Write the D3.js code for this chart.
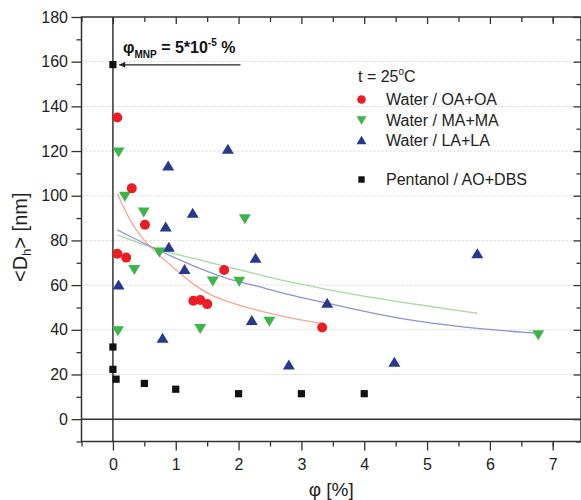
<!DOCTYPE html>
<html><head><meta charset="utf-8">
<script src="https://cdn.jsdelivr.net/npm/d3@7"></script>
<style>
html,body{margin:0;padding:0;background:#fff;}
svg{display:block;font-family:"Liberation Sans",Arial,Helvetica,sans-serif;}
</style></head>
<body>
<svg id="chart" width="581" height="500"></svg>
<script>
// ---- data ----
const oaX = [0.07, 0.3, 0.07, 0.21, 0.51, 1.77, 1.28, 1.39, 1.5, 3.33];
const oaY = [135, 103.3, 74, 72.3, 87, 66.8, 53, 53.3, 51.5, 41];

const maX = [0.09, 0.19, 0.49, 0.34, 0.74, 0.08, 1.39, 1.59, 2.01, 2.1, 2.49, 6.77];
const maY = [119.4, 99.6, 92.5, 66.8, 74.6, 39.4, 40.3, 61.6, 61.5, 89.5, 43.6, 37.6];

const laX = [0.88, 1.83, 0.09, 0.84, 0.89, 1.27, 1.14, 0.79, 2.27, 2.21, 2.8, 3.41, 4.48, 5.8];
const laY = [113.5, 121, 60.3, 86.2, 77.2, 92.4, 67.2, 36.4, 72.2, 44.4, 24.5, 52.1, 25.7, 74.3];

const aoX = [0, 0, 0, 0.05, 0.5, 1.0, 2.0, 3.0, 4.0];
const aoY = [158.7, 32.3, 22.3, 17.9, 16, 13.4, 11.4, 11.4, 11.4];

// fitted trend curves
const oaFitX = [0.07, 0.28, 0.49, 0.7, 1.02, 1.29, 1.55, 1.84, 2.24, 2.77, 3.3];
const oaFitY = [101, 88, 80, 74, 66.5, 60, 55.5, 52.5, 49, 45.5, 42.9];
const maFitX = [0.07, 0.7, 1.29, 1.76, 2.24, 2.77, 3.46, 3.78, 4.52, 5.8];
const maFitY = [82.5, 75.7, 72, 68.5, 65.3, 61.5, 57.8, 56, 52.6, 47.4];
const laFitX = [0.07, 0.65, 1.29, 1.84, 2.24, 2.77, 3.3, 3.78, 4.52, 5.59, 6.75];
const laFitY = [84.7, 76.5, 68.3, 62.5, 60, 55.8, 52.6, 49.6, 45, 41, 38.4];

const xTicks = [0, 1, 2, 3, 4, 5, 6, 7];
const xMinor = [-0.5, 0.5, 1.5, 2.5, 3.5, 4.5, 5.5, 6.5, 7];
const yTicks = [0, 20, 40, 60, 80, 100, 120, 140, 160, 180];
const yMinor = [-10, 10, 30, 50, 70, 90, 110, 130, 150, 170];
const gridY = [20, 40, 60, 80, 100, 120, 140, 160];

const legendNames = ["Water / OA+OA", "Water / MA+MA", "Water / LA+LA", "Pentanol / AO+DBS"];

// ---- drawing ----
const svg = d3.select("#chart");
const x = d3.scaleLinear().domain([-0.5, 7.45]).range([81.5, 581]);
const y = d3.scaleLinear().domain([-10, 180]).range([441.5, 17]);
const X0 = x.range()[0], X1 = x.range()[1], Y0 = y.range()[0], Y1 = y.range()[1];

const C = {oa: "#ec1c24", ma: "#3db54a", la: "#27398f", ao: "#111111",
           oaFit: "#f5a592", maFit: "#a9d8a3", laFit: "#8f92d8"};

// grid
svg.append("g").selectAll("line").data(gridY).join("line")
  .attr("x1", X0).attr("x2", X1).attr("y1", d => y(d)).attr("y2", d => y(d))
  .attr("stroke", "#d6d6d6").attr("stroke-width", 1).attr("stroke-dasharray", "2,2");

// zero lines
svg.append("line").attr("x1", X0).attr("x2", X1).attr("y1", y(0)).attr("y2", y(0))
  .attr("stroke", "#333").attr("stroke-width", 1.5);
svg.append("line").attr("x1", x(0)).attr("x2", x(0)).attr("y1", Y1).attr("y2", Y0)
  .attr("stroke", "#333").attr("stroke-width", 1.5);

// fit curves
const line = d3.line().x(d => x(d[0])).y(d => y(d[1])).curve(d3.curveBasis);
[[oaFitX, oaFitY, C.oaFit], [maFitX, maFitY, C.maFit], [laFitX, laFitY, C.laFit]].forEach(([xs, ys, c]) => {
  svg.append("path").attr("d", line(xs.map((v, i) => [v, ys[i]])))
    .attr("fill", "none").attr("stroke", c).attr("stroke-width", 1.3);
});

// marker shapes
function triUp(w, h) { return `M${-w},${h}L${w},${h}L0,${-h}Z`; }
function triDown(w, h) { return `M${-w},${-h}L${w},${-h}L0,${h}Z`; }

const gM = svg.append("g");
gM.selectAll(".ao").data(aoX.map((v, i) => [v, aoY[i]])).join("rect")
  .attr("x", d => x(d[0]) - 3.6).attr("y", d => y(d[1]) - 3.6)
  .attr("width", 7.2).attr("height", 7.2).attr("fill", C.ao);
gM.selectAll(".la").data(laX.map((v, i) => [v, laY[i]])).join("path")
  .attr("transform", d => `translate(${x(d[0])},${y(d[1])})`)
  .attr("d", triUp(6, 5)).attr("fill", C.la);
gM.selectAll(".ma").data(maX.map((v, i) => [v, maY[i]])).join("path")
  .attr("transform", d => `translate(${x(d[0])},${y(d[1])})`)
  .attr("d", triDown(6, 5)).attr("fill", C.ma);
gM.selectAll(".oa").data(oaX.map((v, i) => [v, oaY[i]])).join("circle")
  .attr("cx", d => x(d[0])).attr("cy", d => y(d[1])).attr("r", 5).attr("fill", C.oa);

// frame
svg.append("rect").attr("x", X0).attr("y", Y1).attr("width", X1 - X0).attr("height", Y0 - Y1)
  .attr("fill", "none").attr("stroke", "#333").attr("stroke-width", 1.5);

// axes
function style(g, labels) {
  g.select(".domain").remove();
  g.selectAll("line").attr("stroke", "#333").attr("stroke-width", 1.3);
  if (labels) g.selectAll("text").attr("font-size", 16).attr("fill", "#222")
    .attr("font-family", "Liberation Sans, Arial, sans-serif");
  else g.selectAll("text").remove();
}
svg.append("g").attr("transform", `translate(${X0},0)`)
  .call(d3.axisLeft(y).tickValues(yTicks).tickSize(10).tickPadding(3.5).tickFormat(d3.format("d")))
  .call(g => style(g, true));
svg.append("g").attr("transform", `translate(${X0},0)`)
  .call(d3.axisLeft(y).tickValues(yMinor).tickSize(5)).call(g => style(g, false));
svg.append("g").attr("transform", `translate(0,${Y0})`)
  .call(d3.axisBottom(x).tickValues(xTicks).tickSize(9).tickPadding(8).tickFormat(d3.format("d")))
  .call(g => style(g, true));
svg.append("g").attr("transform", `translate(0,${Y0})`)
  .call(d3.axisBottom(x).tickValues(xMinor).tickSize(5)).call(g => style(g, false));
// mirrored inner ticks
svg.append("g").attr("transform", `translate(0,${Y1})`)
  .call(d3.axisTop(x).tickValues(xTicks).tickSize(-7)).call(g => style(g, false));
svg.append("g").attr("transform", `translate(0,${Y1})`)
  .call(d3.axisTop(x).tickValues(xMinor).tickSize(-5)).call(g => style(g, false));
svg.append("g").attr("transform", `translate(${X1 - 0.5},0)`)
  .call(d3.axisRight(y).tickValues(yTicks).tickSize(-7)).call(g => style(g, false));
svg.append("g").attr("transform", `translate(${X1 - 0.5},0)`)
  .call(d3.axisRight(y).tickValues(yMinor).tickSize(-4)).call(g => style(g, false));

// axis titles
const yt = svg.append("text").attr("transform", `translate(27,${(Y0 + Y1) / 2 + 8}) rotate(-90)`)
  .attr("text-anchor", "middle").attr("font-size", 20).attr("fill", "#222");
yt.append("tspan").text("<D");
yt.append("tspan").attr("font-size", 13).attr("dy", 4).text("h");
yt.append("tspan").attr("dy", -4).text("> [nm]");

svg.append("text").attr("x", (X0 + X1) / 2).attr("y", 496).attr("text-anchor", "middle")
  .attr("font-size", 19).attr("fill", "#222").text("φ [%]");

// annotation
const ay = y(158.6);
svg.append("defs").append("marker").attr("id", "ah").attr("viewBox", "0 0 10 10")
  .attr("refX", 10).attr("refY", 5).attr("markerWidth", 9).attr("markerHeight", 6)
  .attr("markerUnits", "userSpaceOnUse").attr("orient", "auto")
  .append("path").attr("d", "M0,0L10,5L0,10Z").attr("fill", "#222");
svg.append("line").attr("x1", x(2.03)).attr("x2", x(0.1)).attr("y1", ay).attr("y2", ay)
  .attr("stroke", "#222").attr("stroke-width", 1.2).attr("marker-end", "url(#ah)");
const at = svg.append("text").attr("x", 123).attr("y", 53).attr("font-size", 16)
  .attr("font-weight", "bold").attr("fill", "#111");
at.append("tspan").text("φ");
at.append("tspan").attr("font-size", 10).attr("dy", 5).text("MNP");
at.append("tspan").attr("dy", -5).text(" = 5*10");
at.append("tspan").attr("font-size", 10).attr("dy", -7).text("-5");
at.append("tspan").attr("dy", 7).text(" %");

// legend
const lt = svg.append("text").attr("x", 358).attr("y", 82).attr("font-size", 16).attr("fill", "#222");
lt.append("tspan").text("t = 25");
lt.append("tspan").attr("font-size", 10).attr("dy", -7).text("o");
lt.append("tspan").attr("dy", 7).text("C");

const legY = [99.5, 120.5, 140, 179.5];
const lx = 361.5;
svg.append("circle").attr("cx", lx).attr("cy", legY[0]).attr("r", 4.3).attr("fill", C.oa);
svg.append("path").attr("transform", `translate(${lx},${legY[1]})`).attr("d", triDown(5, 4.2)).attr("fill", C.ma);
svg.append("path").attr("transform", `translate(${lx},${legY[2]})`).attr("d", triUp(5, 4.2)).attr("fill", C.la);
svg.append("rect").attr("x", lx - 3.2).attr("y", legY[3] - 3.2).attr("width", 6.4).attr("height", 6.4).attr("fill", C.ao);
svg.append("g").selectAll("text").data(legendNames).join("text")
  .attr("x", 386).attr("y", (d, i) => legY[i] + 5.6).attr("font-size", 16).attr("fill", "#222")
  .text(d => d);
</script>
</body></html>
